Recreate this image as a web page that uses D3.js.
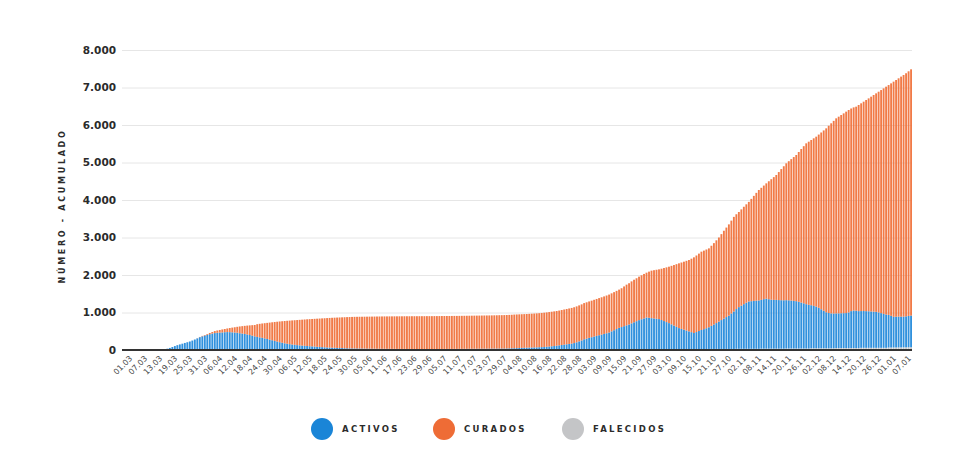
<!DOCTYPE html>
<html><head><meta charset="utf-8">
<script src="https://cdn.jsdelivr.net/npm/d3@7"></script>
<style>body{margin:0;background:#fff;} svg{display:block}</style>
</head><body>
<svg id="chart" width="954" height="473"></svg>
<script>
const startDate = "2020-03-01";

const activos = [
  0,0,0,0,0,0,0,0,0,1, 1,2,3,5,8,12,20,35,55,80, 104,128,148,167,187,205,225,250,278,308, 338,
  360,380,398,418,432,445,452,458,462,466, 470,468,463,457,450,438,428,418,404,388, 370,352,336,324,310,296,280,262,246,228,
  210,194,178,164,152,141,131,123,115,108, 101,95,90,85,80,75,70,65,60,56, 52,48,45,42,40,37,35,32,30,28, 26,
  25,24,23,22,21,20,19,18,18,17, 16,16,15,15,14,14,13,13,12,12, 12,11,11,11,10,10,10,10,9,9,
  9,9,10,10,10,11,11,12,12,12, 13,13,14,14,15,15,16,16,17,17, 18,18,19,19,20,20,21,21,22,22, 23,
  24,26,28,30,33,36,39,41,43,46, 48,50,52,55,58,62,68,74,80,87, 95,105,114,123,132,141,150,165,185,210, 235,
  265,283,302,320,338,355,373,390,408,426, 444,475,505,537,568,590,613,636,658,688, 716,745,773,797,820,844,836,826,818,810,
  800,775,748,720,693,660,626,593,560,538, 515,493,471,450,427,452,480,507,530,555, 578,615,652,690,729,770,810,850,889,945, 1000,
  1060,1111,1150,1190,1230,1262,1270,1278,1284,1289, 1300,1320,1333,1318,1305,1300,1300,1295,1292,1290, 1289,1285,1278,1270,1262,1245,1225,1205,1182,1165,
  1148,1130,1111,1080,1040,1000,960,940,930,926, 924,925,928,930,933,950,985,1000,996,985, 980,982,978,975,970,965,960,945,925,905, 889,
  870,845,818,820,822,820,818,825,835,844
];

const curados = [
  0,0,0,0,0,0,0,0,0,0, 0,0,0,0,0,0,0,0,0,0, 0,0,0,0,0,0,0,0,0,3, 6,
  12,16,22,32,42,54,62,70,80,86, 96,110,126,142,158,180,198,216,237,257, 280,303,340,362,383,405,429,455,479,505,
  529,552,574,594,612,628,643,656,669,681, 692,703,713,722,731,740,749,758,767,775, 783,791,798,804,809,815,820,826,831,835, 840,
  842,844,846,848,850,852,854,856,857,859, 861,862,864,864,866,866,868,868,870,870, 871,872,872,873,874,874,875,875,876,877,
  877,877,877,877,878,878,878,878,878,879, 879,879,879,880,880,881,881,882,882,883, 883,884,884,885,885,886,887,888,889,890, 891,
  891,892,894,897,897,897,897,898,899,900, 902,904,907,908,911,914,916,919,922,924, 926,928,933,937,942,947,952,955,958,960, 962,
  965,968,972,975,980,985,990,995,1000,1006, 1012,1014,1016,1018,1020,1035,1060,1085,1100,1120, 1135,1145,1160,1172,1185,1195,1231,1267,1287,1307,
  1327,1369,1414,1460,1505,1560,1616,1672,1727,1771, 1814,1859,1903,1959,2018,2042,2064,2089,2094,2099, 2104,2137,2170,2207,2243,2292,2342,2387,2433,2477, 2522,
  2528,2537,2568,2598,2623,2656,2728,2800,2874,2946, 2989,3029,3075,3146,3214,3274,3331,3414,3497,3574, 3649,3710,3772,3835,3898,3995,4095,4190,4289,4350,
  4406,4469,4532,4619,4714,4809,4905,4994,5069,5138, 5202,5245,5286,5328,5371,5398,5403,5418,5441,5496, 5540,5582,5631,5677,5727,5777,5826,5885,5949,6014, 6075,
  6129,6199,6271,6312,6354,6400,6444,6483,6524,6567
];

const falecidos = [
  0,0,0,0,0,0,0,0,0,0, 0,0,0,0,0,0,0,0,0,0, 1,1,1,1,1,2,2,2,2,2, 4,
  4,4,4,4,6,6,6,6,6,8, 8,8,8,8,10,10,10,10,10,12, 12,12,12,12,14,14,14,14,14,14,
  15,15,15,15,15,15,15,15,15,15, 16,16,16,16,16,16,16,16,16,16, 16,16,16,16,16,16,16,16,16,16, 16,
  17,17,17,17,17,17,17,17,17,17, 17,17,17,17,17,17,17,17,17,17, 17,17,17,17,17,17,17,17,17,17,
  17,17,17,17,17,17,17,17,17,17, 17,17,17,17,17,17,17,17,17,17, 17,17,17,17,17,17,17,17,17,17, 17,
  18,18,18,18,18,18,18,18,18,18, 18,18,18,19,19,19,19,19,19,19, 19,19,19,20,20,20,20,20,20,20, 20,
  21,21,21,21,21,21,21,21,21,21, 22,22,22,22,22,22,22,22,22,22, 23,23,23,23,23,23,23,23,23,23,
  24,24,24,24,24,24,24,24,24,24, 26,26,26,26,26,26,26,26,26,26, 28,28,28,28,28,28,28,28,28,28, 28,
  32,32,32,32,32,32,32,32,32,32, 36,36,36,36,36,36,36,36,36,36, 40,40,40,40,40,40,40,40,40,40,
  46,46,46,46,46,46,46,46,46,46, 52,52,52,52,52,52,52,52,52,52, 58,58,58,58,58,58,58,58,58,58, 58,
  66,66,67,68,69,70,71,72,73,74
];

const yTicks = [0,1000,2000,3000,4000,5000,6000,7000,8000];
const xTickLabels = ["01.03","07.03","13.03","19.03","25.03","31.03","06.04","12.04","18.04","24.04","30.04",
  "06.05","12.05","18.05","24.05","30.05","05.06","11.06","17.06","23.06","29.06","05.07","11.07","17.07",
  "23.07","29.07","04.08","10.08","16.08","22.08","28.08","03.09","09.09","15.09","21.09","27.09","03.10",
  "09.10","15.10","21.10","27.10","02.11","08.11","14.11","20.11","26.11","02.12","08.12","14.12","20.12",
  "26.12","01.01","07.01"];
const legendItems = [["activos","ACTIVOS"],["curados","CURADOS"],["falecidos","FALECIDOS"]];
const yTitle = "NÚMERO - ACUMULADO";

const colors = {activos:"#1f88da", curados:"#f07038", falecidos:"#c4c5c7"};
const legendColors = {activos:"#1a85d7", curados:"#ee6c36", falecidos:"#c4c5c7"};

const parse = d3.timeParse("%Y-%m-%d");
const fmt = d3.timeFormat("%d.%m");
const t0 = parse(startDate);
const dates = activos.map((_, i) => fmt(d3.timeDay.offset(t0, i)));
const rows = dates.map((d, i) => ({date: d, falecidos: falecidos[i], activos: activos[i], curados: curados[i]}));
const keys = ["falecidos", "activos", "curados"];

const svg = d3.select("#chart");
const left = 122, right = 912;
const x = d3.scaleBand().domain(dates).range([124, right]).paddingInner(0.25).paddingOuter(0);
const y = d3.scaleLinear().domain([0, 8000]).range([350, 50]);
const numFmt = d3.formatLocale({decimal: ",", thousands: ".", grouping: [3], currency: ["", "€"]}).format(",");

// y axis + grid
const gy = svg.append("g").attr("transform", `translate(${left},0)`)
  .call(d3.axisLeft(y).tickValues(yTicks).tickSize(-(right - left)).tickPadding(6).tickFormat(numFmt));
gy.select(".domain").remove();
gy.selectAll(".tick line").attr("stroke", "#e6e6e6").attr("stroke-width", 1);
gy.selectAll(".tick text").attr("fill", "#2b2b2b")
  .style("font-family", "DejaVu Sans, sans-serif").style("font-weight", "bold").style("font-size", "10.5px");

// bars
const stack = d3.stack().keys(keys)(rows);
svg.append("g").selectAll("g").data(stack).join("g")
  .attr("fill", d => colors[d.key])
  .attr("fill-opacity", 0.92)
  .selectAll("rect").data(d => d).join("rect")
  .attr("x", d => x(d.data.date))
  .attr("width", x.bandwidth())
  .attr("y", d => y(d[1]))
  .attr("height", d => Math.max(0, y(d[0]) - y(d[1])));

// zero line
svg.append("line").attr("x1", left).attr("x2", right).attr("y1", y(0)).attr("y2", y(0))
  .attr("stroke", "#333").attr("stroke-width", 2);

// x axis labels
const gx = svg.append("g").attr("transform", `translate(0,${y(0)})`)
  .call(d3.axisBottom(x).tickValues(xTickLabels).tickSize(0).tickPadding(0));
gx.select(".domain").remove();
gx.selectAll(".tick text")
  .attr("x", 0).attr("y", 0).attr("dy", 0)
  .attr("transform", "translate(8,9) rotate(-45)")
  .style("text-anchor", "end")
  .attr("fill", "#4a4a4a")
  .style("font-family", "DejaVu Sans, sans-serif").style("font-size", "8px");

// y title
svg.append("text").attr("transform", `translate(65,206) rotate(-90)`)
  .attr("text-anchor", "middle").attr("fill", "#2b2b2b")
  .style("font-family", "DejaVu Sans, sans-serif").style("font-weight", "bold")
  .style("font-size", "8px").style("letter-spacing", "2.7px")
  .text(yTitle);

// legend
const legendX = [322, 444, 573];
const lg = svg.append("g").selectAll("g").data(legendItems).join("g")
  .attr("transform", (d, i) => `translate(${legendX[i]},429)`);
lg.append("circle").attr("r", 11).attr("fill", d => legendColors[d[0]]);
lg.append("text").attr("x", 20).attr("y", 3.2).text(d => d[1])
  .attr("fill", "#2b2b2b")
  .style("font-family", "DejaVu Sans, sans-serif").style("font-weight", "bold")
  .style("font-size", "8.5px").style("letter-spacing", "2.3px");
</script>
</body></html>
